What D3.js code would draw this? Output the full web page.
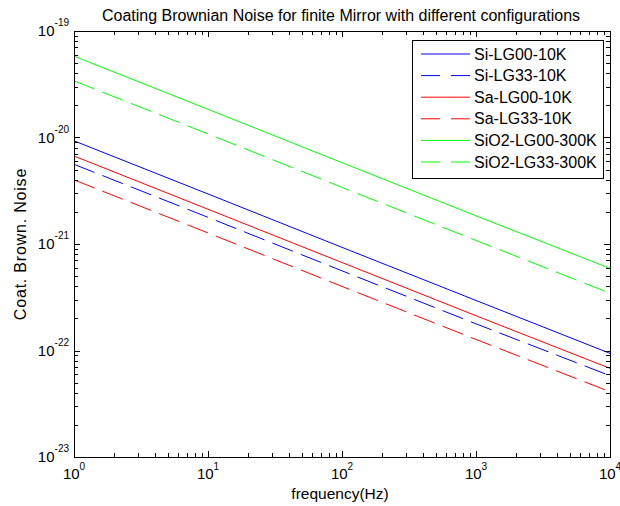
<!DOCTYPE html>
<html>
<head>
<meta charset="utf-8">
<script src="https://cdn.jsdelivr.net/npm/d3@7"></script>
<style>
  body { margin: 0; background: #fff; }
  text { font-family: "Liberation Sans", Arial, sans-serif; fill: #000; }
</style>
</head>
<body>
<svg id="chart" width="620" height="506"></svg>
<script>
// frequencies where values were read (Hz)
const freqs = [1, 10, 100, 1000, 10000]

// coating brownian noise
const siLG00 = [9.3e-21, 2.95e-21, 9.3e-22, 2.95e-22, 9.4e-23]
const siLG33 = [5.6e-21, 1.78e-21, 5.6e-22, 1.78e-22, 5.8e-23]
const saLG00 = [6.7e-21, 2.12e-21, 6.7e-22, 2.12e-22, 6.8e-23]
const saLG33 = [4.0e-21, 1.27e-21, 4.0e-22, 1.27e-22, 4.1e-23]
const sio2LG00 = [5.8e-20, 1.84e-20, 5.8e-21, 1.84e-21, 5.9e-22]
const sio2LG33 = [3.4e-20, 1.08e-20, 3.4e-21, 1.08e-21, 3.45e-22]

const seriesNames = ['Si-LG00-10K', 'Si-LG33-10K', 'Sa-LG00-10K', 'Sa-LG33-10K', 'SiO2-LG00-300K', 'SiO2-LG33-300K']
const seriesValues = [siLG00, siLG33, saLG00, saLG33, sio2LG00, sio2LG33]
const seriesColors = ['#0000ff', '#0000ff', '#ff0000', '#ff0000', '#00ff00', '#00ff00']
const seriesDashed = [false, true, false, true, false, true]

const xTicks = [1, 10, 100, 1000, 10000]
const xExps = ['0', '1', '2', '3', '4']
const yTicks = [1e-23, 1e-22, 1e-21, 1e-20, 1e-19]
const yExps = ['-23', '-22', '-21', '-20', '-19']

const svg = d3.select('#chart')
const plotL = 74, plotR = 610, plotT = 31, plotB = 457

const x = d3.scaleLog().domain([1, 1e4]).range([plotL, plotR])
const y = d3.scaleLog().domain([1e-23, 1e-19]).range([plotB, plotT])

// series lines
const line = d3.line()
  .x(d => x(d[0]))
  .y(d => y(d[1]))

const lines = svg.append('g').attr('class', 'lines')
seriesValues.forEach((vals, i) => {
  lines.append('path')
    .datum(freqs.map((f, j) => [f, vals[j]]))
    .attr('fill', 'none')
    .attr('stroke', seriesColors[i])
    .attr('stroke-width', 1)
    .attr('stroke-dasharray', seriesDashed[i] ? '22,8.5' : null)
    .attr('d', line)
})

// axes box with inward ticks
const axes = svg.append('g').attr('class', 'axes')
axes.append('rect')
  .attr('x', plotL + 0.5).attr('y', plotT + 0.5)
  .attr('width', plotR - plotL).attr('height', plotB - plotT)
  .attr('fill', 'none').attr('stroke', '#000').attr('stroke-width', 1)

const minorX = []
for (let d = 1; d < 1e4; d *= 10) for (let k = 2; k <= 9; k++) minorX.push(d * k)
const minorY = []
for (let d = 1e-23; d < 1e-19 * 0.99; d *= 10) for (let k = 2; k <= 9; k++) minorY.push(d * k)

function tick(x1, y1, x2, y2) {
  axes.append('line')
    .attr('x1', x1).attr('y1', y1).attr('x2', x2).attr('y2', y2)
    .attr('stroke', '#000').attr('stroke-width', 1)
}

xTicks.forEach(v => {
  const px = Math.round(x(v)) + 0.5
  tick(px, plotB, px, plotB - 6)
  tick(px, plotT, px, plotT + 6)
})
minorX.forEach(v => {
  const px = Math.round(x(v)) + 0.5
  tick(px, plotB, px, plotB - 4)
  tick(px, plotT, px, plotT + 4)
})
yTicks.forEach(v => {
  const py = Math.round(y(v)) + 0.5
  tick(plotL, py, plotL + 6, py)
  tick(plotR, py, plotR - 6, py)
})
minorY.forEach(v => {
  const py = Math.round(y(v)) + 0.5
  tick(plotL, py, plotL + 4, py)
  tick(plotR, py, plotR - 4, py)
})

// tick labels
xTicks.forEach((v, i) => {
  const t = svg.append('text')
    .attr('x', x(v)).attr('y', 479)
    .attr('text-anchor', 'middle')
    .style('font-size', '15px')
  t.append('tspan').text('10')
  t.append('tspan').attr('dy', -9).style('font-size', '10px').text(xExps[i])
})
yTicks.forEach((v, i) => {
  const t = svg.append('text')
    .attr('x', 69).attr('y', y(v) + 5)
    .attr('text-anchor', 'end')
    .style('font-size', '15px')
  t.append('tspan').text('10')
  t.append('tspan').attr('dy', -10).style('font-size', '10px').text(yExps[i])
})

// title and axis labels
svg.append('text')
  .attr('x', 341).attr('y', 21)
  .attr('text-anchor', 'middle')
  .style('font-size', '16px')
  .text('Coating Brownian Noise for finite Mirror with different configurations')

svg.append('text')
  .attr('x', 340).attr('y', 499)
  .attr('text-anchor', 'middle')
  .style('font-size', '15.5px')
  .text('frequency(Hz)')

svg.append('text')
  .attr('transform', 'translate(26,244) rotate(-90)')
  .attr('text-anchor', 'middle')
  .style('font-size', '16px')
  .style('letter-spacing', '0.8px')
  .text('Coat. Brown. Noise')

// legend
const legend = svg.append('g').attr('class', 'legend')
legend.append('rect')
  .attr('x', 412.5).attr('y', 40.5)
  .attr('width', 191).attr('height', 138)
  .attr('fill', '#fff').attr('stroke', '#000').attr('stroke-width', 1)

seriesNames.forEach((name, i) => {
  const ly = 54 + i * 21.6
  legend.append('line')
    .attr('x1', 421).attr('x2', 470)
    .attr('y1', ly).attr('y2', ly)
    .attr('stroke', seriesColors[i])
    .attr('stroke-dasharray', seriesDashed[i] ? '19,11' : null)
  legend.append('text')
    .attr('x', 474).attr('y', ly + 5.5)
    .style('font-size', '16px')
    .text(name)
})
</script>
</body>
</html>
